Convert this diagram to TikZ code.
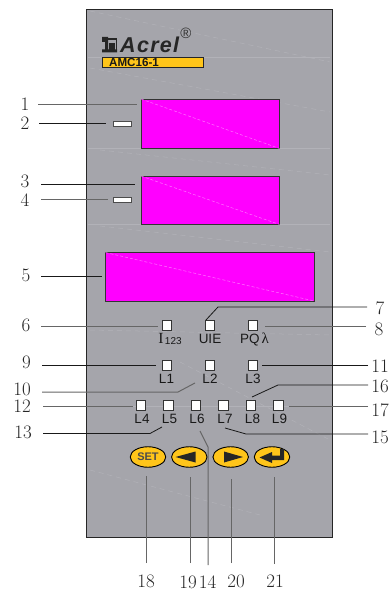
\documentclass[tikz,border=0pt]{standalone}
\usepackage{fontspec}
\setsansfont{Liberation Sans}
\setmainfont{Latin Modern Roman}
\usetikzlibrary{shapes.geometric}
\newfontfamily\ledserif{Liberation Serif}
\definecolor{panelgray}{HTML}{A5A5AB}
\definecolor{magentafill}{HTML}{FF00FF}
\definecolor{amber}{HTML}{FFC51A}
\definecolor{streak}{HTML}{B2B2B8}
\definecolor{pinkstreak}{HTML}{FF70FF}
\newcommand{\fs}[1]{\fontsize{#1}{#1}\selectfont}
\tikzset{
  panel/.style={draw=black!85,fill=panelgray,line width=0.9pt,outer sep=0pt},
  display/.style={draw=black!80,fill=magentafill,line width=0.9pt,outer sep=0pt,inner sep=0pt},
  slot/.style={draw=black!70,fill=white,line width=0.9pt,outer sep=0pt,inner sep=0pt},
  led/.style={draw=black!80,fill=white,line width=0.6pt,minimum size=9.5pt,inner sep=0pt},
  ledtext/.style={font=\sffamily\fs{13.5},text=black!90,inner sep=0pt,anchor=base},
  numtext/.style={font=\fs{19},text=black!85,inner sep=0pt},
  btn/.style={ellipse,draw=black,fill=amber,line width=0.9pt,minimum width=35.5pt,minimum height=20.5pt,inner sep=0pt},
  darkline/.style={draw=black!90,line width=0.8pt},
  greyline/.style={draw=black!60,line width=1pt},
  glyph/.style={fill=black!85,draw=none},
  texture/.style={draw=streak,line width=0.5pt,dashed,dash pattern=on 5pt off 4pt},
  texturep/.style={draw=pinkstreak,line width=0.5pt,dashed,dash pattern=on 3pt off 2pt},
}
\begin{document}
\begin{tikzpicture}[x=1pt,y=-1pt]
\useasboundingbox (0,0) rectangle (388,593);
% panel
\node[panel,anchor=north west,minimum width=246.5pt,minimum height=527.5pt,inner sep=0pt] (panel) at (86,9.5) {};
% faint streaks on the panel
\draw[texture] (90,11) -- (330,62);
\draw[streak,line width=0.5pt] (88,57) -- (330,57);
\draw[texture] (90,68) -- (330,112);
\draw[streak,line width=0.5pt] (88,148.5) -- (330,148.5);
\draw[texture] (100,150) -- (330,175);
\draw[streak,line width=0.5pt] (88,224.5) -- (330,224.5);
\draw[texture] (100,226) -- (330,252);
\draw[texture] (90,330) -- (330,335);
\draw[texture] (180,362) -- (330,440);
\draw[streak,line width=0.5pt] (90,406) -- (330,406);
\draw[texture] (90,470) -- (260,515);
% logo
\node[font=\sffamily\bfseries\itshape\fs{21.5},text=black!85,inner sep=0pt,anchor=west] (logo) at (120,45) {A\kern1.3pt c\kern1.3pt r\kern1.3pt e\kern1.3pt l};
\node[font=\sffamily\fs{15},text=black!80,inner sep=0pt] (reg) at (186,33) {®};
\fill[black!85] (102,37) rectangle (108,42) (105,40) rectangle (108,52) (102,49.5) rectangle (117,52.5);
\draw[black!85,line width=1.3pt] (108,39) -- (116.5,39) -- (116.5,51);
\fill[black!85] (109,43) rectangle (115,50);
\node[draw=black!85,fill=amber,line width=0.7pt,anchor=north west,minimum width=101.5pt,minimum height=10.5pt,inner sep=0pt,outer sep=0pt] (model) at (102,57) {};
\node[font=\sffamily\bfseries\fs{11.6},text=black!90,inner sep=0pt,anchor=west] (modeltext) at (109,62.5) {AMC16-1};
% displays
\node[display,anchor=north west,minimum width=138.5pt,minimum height=49.5pt] (d1) at (141,99) {};
\node[display,anchor=north west,minimum width=138.5pt,minimum height=48.5pt] (d2) at (141,176) {};
\node[display,anchor=north west,minimum width=208.5pt,minimum height=48.5pt] (d3) at (105.5,252.5) {};
\draw[texturep] (d1.north west) -- (d1.south east);
\draw[texturep] (d2.north west) -- (d2.south east);
\draw[texturep] (d3.north west) -- (d3.south east);
% slots
\node[slot,anchor=north west,minimum width=18.5pt,minimum height=5.2pt] (s1) at (113.3,121.3) {};
\node[slot,anchor=north west,minimum width=18.5pt,minimum height=5.2pt] (s2) at (113.3,197.6) {};
% LEDs
\node[led] (lI) at (167,325.5) {};
\node[led] (lU) at (210,325.5) {};
\node[led] (lP) at (253,325.5) {};
\node[led] (l1) at (167,365.5) {};
\node[led] (l2) at (210,365.5) {};
\node[led] (l3) at (253,365.5) {};
\node[led] (l4) at (141,405.5) {};
\node[led] (l5) at (168.5,405.5) {};
\node[led] (l6) at (196,405.5) {};
\node[led] (l7) at (223.5,405.5) {};
\node[led] (l8) at (251,405.5) {};
\node[led] (l9) at (278.5,405.5) {};
% LED labels
\node[ledtext] (tI) at (170,343.5) {\ledserif\fs{15.5}I\kern1.5pt\sffamily\fs{10}\raisebox{-0.5pt}{123}};
\node[ledtext] (tU) at (210,343) {UIE};
\node[ledtext] (tP) at (254.5,343) {PQ\kern2pt\ledserif\fs{15}λ};
\node[ledtext] (t1) at (166.5,383) {L1};
\node[ledtext] (t2) at (210,383) {L2};
\node[ledtext] (t3) at (253,383) {L3};
\node[ledtext] (t4) at (142,423.5) {L4};
\node[ledtext] (t5) at (169.5,423.5) {L5};
\node[ledtext] (t6) at (197,423.5) {L6};
\node[ledtext] (t7) at (225,423.5) {L7};
\node[ledtext] (t8) at (252.5,423.5) {L8};
\node[ledtext] (t9) at (279.5,423.5) {L9};
% buttons
\node[btn] (bset) at (148,457) {\sffamily\bfseries\fs{11}\textcolor{black!70}{SET}};
\node[btn] (bleft) at (189.3,457) {};
\node[btn] (bright) at (230.7,457) {};
\node[btn] (benter) at (272,457) {};
\fill[glyph] (175.5,457) -- (195.5,451.5) -- (195.5,462.5) -- cycle;
\fill[glyph] (224,451.5) -- (243,457) -- (224,462.5) -- cycle;
\fill[glyph] (259.5,457.5) -- (272,452) -- (272,455.5) -- (280,455.5) -- (280,449) -- (284,449) -- (284,460) -- (272,460) -- (272,463) -- cycle;
% number labels
\node[numtext] (n1) at (25,104.5) {1};
\node[numtext] (n2) at (25,123) {2};
\node[numtext] (n3) at (25,181) {3};
\node[numtext] (n4) at (25,200) {4};
\node[numtext] (n5) at (26,275) {5};
\node[numtext] (n6) at (26,325) {6};
\node[numtext] (n9) at (26.5,362) {9};
\node[numtext] (n10) at (22,389) {10};
\node[numtext] (n12) at (22,406.5) {12};
\node[numtext] (n13) at (23,432) {13};
\node[numtext] (n7) at (380,308) {7};
\node[numtext] (n8) at (379,329) {8};
\node[numtext] (n11) at (380,366) {11};
\node[numtext] (n16) at (380,386) {16};
\node[numtext] (n17) at (380,410) {17};
\node[numtext] (n15) at (380,437) {15};
\node[numtext] (n18) at (146,581.5) {18};
\node[numtext] (n19) at (188,582.5) {19};
\node[numtext] (n14) at (207.5,582.5) {14};
\node[numtext] (n20) at (236,581.5) {20};
\node[numtext] (n21) at (275,581.5) {21};
% connector end points
\coordinate (a1) at (38,105); \coordinate (b1) at (137,105);
\coordinate (a2) at (39,123.3); \coordinate (b2) at (106,123.3);
\coordinate (a3) at (41,184); \coordinate (b3) at (135,184);
\coordinate (a4) at (41,200); \coordinate (b4) at (108,200);
\coordinate (a5) at (41,276); \coordinate (b5) at (102,276);
\coordinate (a6) at (41,326.5); \coordinate (b6) at (158,326.5);
\coordinate (a9) at (42,365.5); \coordinate (b9) at (156,365.5);
\coordinate (a10) at (42,392); \coordinate (k10) at (178,392); \coordinate (b10) at (195,383);
\coordinate (a12) at (43,406); \coordinate (b12) at (133,406);
\coordinate (a13) at (43,433.5); \coordinate (k13) at (150,433.5); \coordinate (b13) at (162,427);
\coordinate (a7) at (367,307); \coordinate (k7) at (218,307); \coordinate (b7) at (206,320);
\coordinate (a8) at (366,326.5); \coordinate (b8) at (265,326.5);
\coordinate (a11) at (368,365.5); \coordinate (b11) at (262,365.5);
\coordinate (a16) at (368,385); \coordinate (k16) at (278,385); \coordinate (b16) at (252,397);
\coordinate (a17) at (368,406); \coordinate (b17) at (289,406);
\coordinate (a15) at (368,434); \coordinate (k15) at (246,434); \coordinate (b15) at (225,428);
\coordinate (a18) at (146.7,563); \coordinate (b18) at (146.7,476);
\coordinate (a19) at (190.3,563); \coordinate (b19) at (190.3,477);
\coordinate (a20) at (231.5,563); \coordinate (b20) at (231.5,479);
\coordinate (a21) at (274.5,564); \coordinate (b21) at (274.5,477);
\coordinate (a14) at (208,565); \coordinate (k14) at (208,447); \coordinate (b14) at (200,431);
% connectors
\draw[greyline] (a1) -- (b1);
\draw[darkline] (a2) -- (b2);
\draw[darkline] (a3) -- (b3);
\draw[greyline] (a4) -- (b4);
\draw[darkline] (a5) -- (b5);
\draw[greyline] (a6) -- (b6);
\draw[darkline] (a9) -- (b9);
\draw[greyline] (a10) -- (k10) -- (b10);
\draw[greyline] (a12) -- (b12);
\draw[darkline] (a13) -- (k13) -- (b13);
\draw[darkline] (a7) -- (k7) -- (b7);
\draw[greyline] (a8) -- (b8);
\draw[darkline] (a11) -- (b11);
\draw[darkline] (a16) -- (k16) -- (b16);
\draw[greyline] (a17) -- (b17);
\draw[darkline] (a15) -- (k15) -- (b15);
\draw[greyline] (a18) -- (b18);
\draw[greyline] (a19) -- (b19);
\draw[greyline] (a20) -- (b20);
\draw[greyline] (a21) -- (b21);
\draw[greyline] (a14) -- (k14) -- (b14);
\end{tikzpicture}
\end{document}
